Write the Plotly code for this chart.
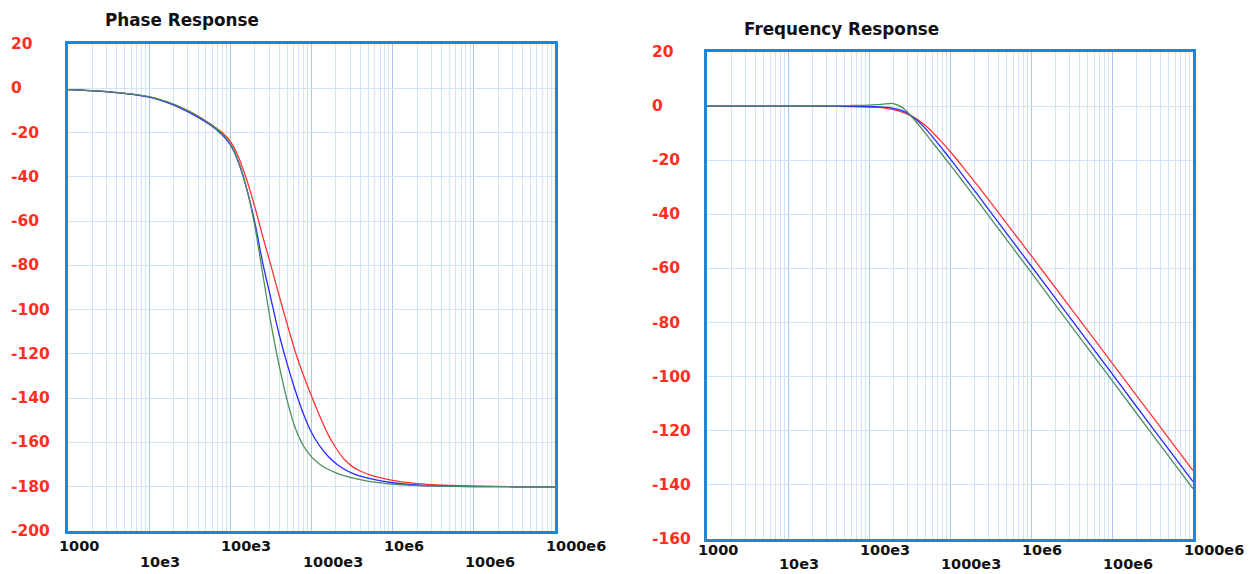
import math
import plotly.graph_objects as go

# ---------------- data ----------------
phase_freq = [1.0e3, 3.16e3, 1.0e4, 1.78e4, 3.16e4, 5.62e4, 7.94e4, 1.0e5, 1.26e5, 1.58e5,
              2.0e5, 2.51e5, 3.16e5, 3.98e5, 5.01e5, 6.31e5, 7.94e5, 1.0e6, 1.26e6, 1.58e6,
              2.0e6, 2.51e6, 3.16e6, 3.98e6, 5.62e6, 1.0e7, 1.78e7, 3.16e7, 1.0e8, 3.16e8, 1.0e9]
phase_red = [-0.6, -1.6, -3.9, -6.6, -10.5, -16.0, -20.0, -24.0, -31.0, -41.0,
             -53.5, -67.0, -80.0, -93.5, -106.5, -119.0, -129.5, -139.0, -148.0, -156.0,
             -162.5, -167.5, -170.8, -172.9, -175.0, -177.1, -178.4, -179.1, -179.7, -180.0, -180.0]
phase_blue = [-0.6, -1.6, -4.0, -6.8, -11.0, -16.5, -21.0, -25.5, -33.5, -45.0,
              -60.5, -79.0, -95.0, -111.0, -124.5, -136.5, -147.0, -155.5, -161.5, -166.0,
              -169.5, -172.0, -173.9, -175.2, -176.6, -178.2, -179.1, -179.6, -179.9, -180.0, -180.0]
phase_green = [-0.6, -1.5, -3.8, -6.5, -10.5, -16.0, -20.5, -25.0, -33.0, -45.0,
               -62.0, -84.0, -106.0, -125.0, -141.0, -153.5, -161.5, -166.5, -169.8, -172.0,
               -173.7, -175.0, -176.0, -176.8, -177.8, -178.8, -179.4, -179.7, -179.9, -180.0, -180.0]

mag_freq = [1.0e3, 3.16e3, 1.0e4, 3.16e4, 5.62e4, 1.0e5, 1.26e5, 1.58e5, 2.0e5, 2.51e5,
            3.16e5, 3.98e5, 5.01e5, 6.31e5, 7.94e5, 1.0e6, 1.26e6, 1.58e6, 2.24e6, 3.16e6,
            1.0e7, 3.16e7, 1.0e8, 3.16e8, 1.0e9]
mag_red = [0.0, 0.0, 0.0, -0.05, -0.15, -0.35, -0.5, -0.75, -1.3, -2.1,
           -3.3, -5.0, -7.3, -10.1, -13.3, -16.7, -20.3, -24.0, -29.7, -35.5,
           -55.2, -75.0, -94.9, -114.8, -134.7]
mag_blue = [0.0, 0.0, 0.0, 0.0, -0.05, -0.15, -0.25, -0.4, -0.8, -1.6,
            -3.1, -5.4, -8.4, -11.9, -15.6, -19.4, -23.3, -27.2, -33.1, -39.1,
            -59.0, -78.9, -98.9, -118.9, -138.8]
mag_green = [0.0, 0.0, 0.02, 0.1, 0.2, 0.35, 0.55, 0.8, 0.95, -0.3,
             -3.0, -6.5, -10.2, -14.0, -17.8, -21.6, -25.5, -29.4, -35.4, -41.4,
             -61.4, -81.4, -101.4, -121.4, -141.4]

decade_vals = [1e3, 1e4, 1e5, 1e6, 1e7, 1e8, 1e9]
decade_labels = ["1000", "10e3", "100e3", "1000e3", "10e6", "100e6", "1000e6"]
phase_ticks = list(range(-200, 21, 20))
mag_ticks = list(range(-160, 21, 20))

# ---------------- styling ----------------
W, H = 1258, 574
FONT = "DejaVu Sans"
RED_LBL = "#ff2f1f"
FRAME = "#1a86dc"
GRID = "#d2e3f5"
GRID_MAJ = "#a8c8ec"
COLORS = {"red": "#ff3434", "blue": "#2a2aff", "green": "#4a8f5c"}


def px_x(p):
    return p / W


def px_y(p):
    return 1 - p / H


L1 = dict(x0=68, x1=555, y0=44, y1=531)
L2 = dict(x0=707, x1=1193, y0=52, y1=539)

fig = go.Figure()


def add_curves(xa, ya, freq, series):
    for name, vals in series:
        fig.add_trace(go.Scatter(
            x=freq, y=vals, mode="lines", xaxis=xa, yaxis=ya,
            line=dict(color=COLORS[name], width=1.3, shape="spline", smoothing=0.8),
            hoverinfo="skip", showlegend=False))


add_curves("x", "y", phase_freq, [("red", phase_red), ("blue", phase_blue), ("green", phase_green)])
add_curves("x2", "y2", mag_freq, [("red", mag_red), ("blue", mag_blue), ("green", mag_green)])


def xaxis_cfg(box):
    return dict(
        type="log", range=[3, 9], domain=[px_x(box["x0"]), px_x(box["x1"])],
        dtick=1, tick0=0, showticklabels=False, ticks="",
        showgrid=True, gridcolor=GRID_MAJ, gridwidth=1.2,
        minor=dict(dtick="D1", showgrid=True, gridcolor=GRID, gridwidth=1, ticks=""),
        showline=True, linecolor=FRAME, linewidth=2.5, mirror=True, zeroline=False,
        fixedrange=True)


def yaxis_cfg(box, rng, ticks):
    return dict(
        range=rng, domain=[px_y(box["y1"]), px_y(box["y0"])],
        tickvals=ticks, showticklabels=False, ticks="",
        showgrid=True, gridcolor=GRID, gridwidth=1,
        showline=True, linecolor=FRAME, linewidth=2.5, mirror=True, zeroline=False,
        fixedrange=True)


fig.update_layout(
    width=W, height=H, margin=dict(l=0, r=0, t=0, b=0),
    paper_bgcolor="white", plot_bgcolor="white",
    xaxis=dict(xaxis_cfg(L1), anchor="y"),
    yaxis=dict(yaxis_cfg(L1, [-200, 20], phase_ticks), anchor="x"),
    xaxis2=dict(xaxis_cfg(L2), anchor="y2"),
    yaxis2=dict(yaxis_cfg(L2, [-160, 20], mag_ticks), anchor="x2"),
    font=dict(family=FONT),
)

ann = []
# y tick labels (left aligned, red)
for v in phase_ticks:
    ann.append(dict(text=f"<b>{v}</b>", xref="paper", x=px_x(9), xanchor="left",
                    yref="y", y=v, yanchor="middle", showarrow=False,
                    font=dict(family=FONT, size=15.5, color=RED_LBL)))
for v in mag_ticks:
    ann.append(dict(text=f"<b>{v}</b>", xref="paper", x=px_x(650), xanchor="left",
                    yref="y2", y=v, yanchor="middle", showarrow=False,
                    font=dict(family=FONT, size=15.5, color=RED_LBL)))

# x tick labels in two staggered rows
for xref, row1, row2 in (("x", 545.5, 561.5), ("x2", 550, 564)):
    for i, (fv, lab) in enumerate(zip(decade_vals, decade_labels)):
        ann.append(dict(text=f"<b>{lab}</b>", xref=xref, x=math.log10(fv), xanchor="left",
                        xshift=-11, yref="paper", y=px_y(row1 if i % 2 == 0 else row2),
                        yanchor="middle", showarrow=False,
                        font=dict(family=FONT, size=14.5, color="#111111")))

# titles
ann.append(dict(text="<b>Phase Response</b>", xref="paper", x=px_x(103), xanchor="left",
                yref="paper", y=px_y(20.5), yanchor="middle", showarrow=False,
                font=dict(family=FONT, size=16.8, color="#111111")))
ann.append(dict(text="<b>Frequency Response</b>", xref="paper", x=px_x(742), xanchor="left",
                yref="paper", y=px_y(29.5), yanchor="middle", showarrow=False,
                font=dict(family=FONT, size=16.8, color="#111111")))

fig.update_layout(annotations=ann)
fig.write_html("out.html")
